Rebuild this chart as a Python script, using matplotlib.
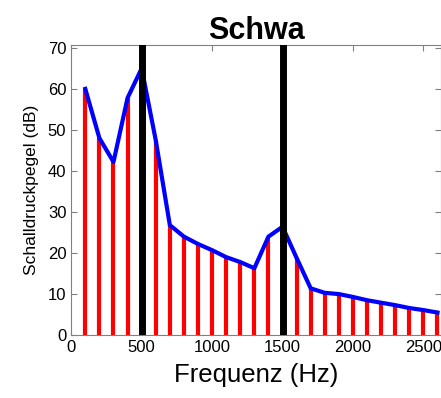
import matplotlib
matplotlib.use('Agg')
import matplotlib.pyplot as plt
import numpy as np

# Harmonics of the schwa spectrum (f0 = 100 Hz)
freqs = [100, 200, 300, 400, 500, 600, 700, 800, 900, 1000, 1100, 1200, 1300,
         1400, 1500, 1600, 1700, 1800, 1900, 2000, 2100, 2200, 2300, 2400,
         2500, 2600]
levels = [60, 48, 42.2, 57.8, 65, 47.5, 26.8, 24, 22.2, 20.7, 19, 17.8, 16.3,
          24, 26.4, 18.8, 11.4, 10.3, 10, 9.3, 8.5, 7.9, 7.3, 6.6, 6.1, 5.5]
formants = [500, 1500]

plt.rcParams['font.family'] = ['Liberation Sans', 'DejaVu Sans']

fig = plt.figure(figsize=(4.41, 3.98), dpi=100)
ax = fig.add_axes([0.1615, 0.158, 0.8385, 0.729])

ax.vlines(freqs, 0, levels, color='red', linewidth=3, zorder=2)
ax.plot(freqs, levels, color='blue', linewidth=3, zorder=3)
for f in formants:
    ax.axvline(f, color='black', linewidth=5, zorder=4)

ax.set_xlim(0, 2625)
ax.set_ylim(0, 70.7)
ax.set_xticks([0, 500, 1000, 1500, 2000, 2500])
ax.set_yticks(np.arange(0, 71, 10))
ax.tick_params(direction='in', top=True, right=True, length=4,
               labelsize=12, color='#808080')
for s in ax.spines.values():
    s.set_color('#808080')

ax.set_title('Schwa', fontsize=22, fontweight='bold', pad=4)
ax.set_xlabel('Frequenz (Hz)', fontsize=18.5, labelpad=6)
ax.set_ylabel('Schalldruckpegel (dB)', fontsize=12.5, labelpad=6)

fig.savefig('out.png', dpi=100)
